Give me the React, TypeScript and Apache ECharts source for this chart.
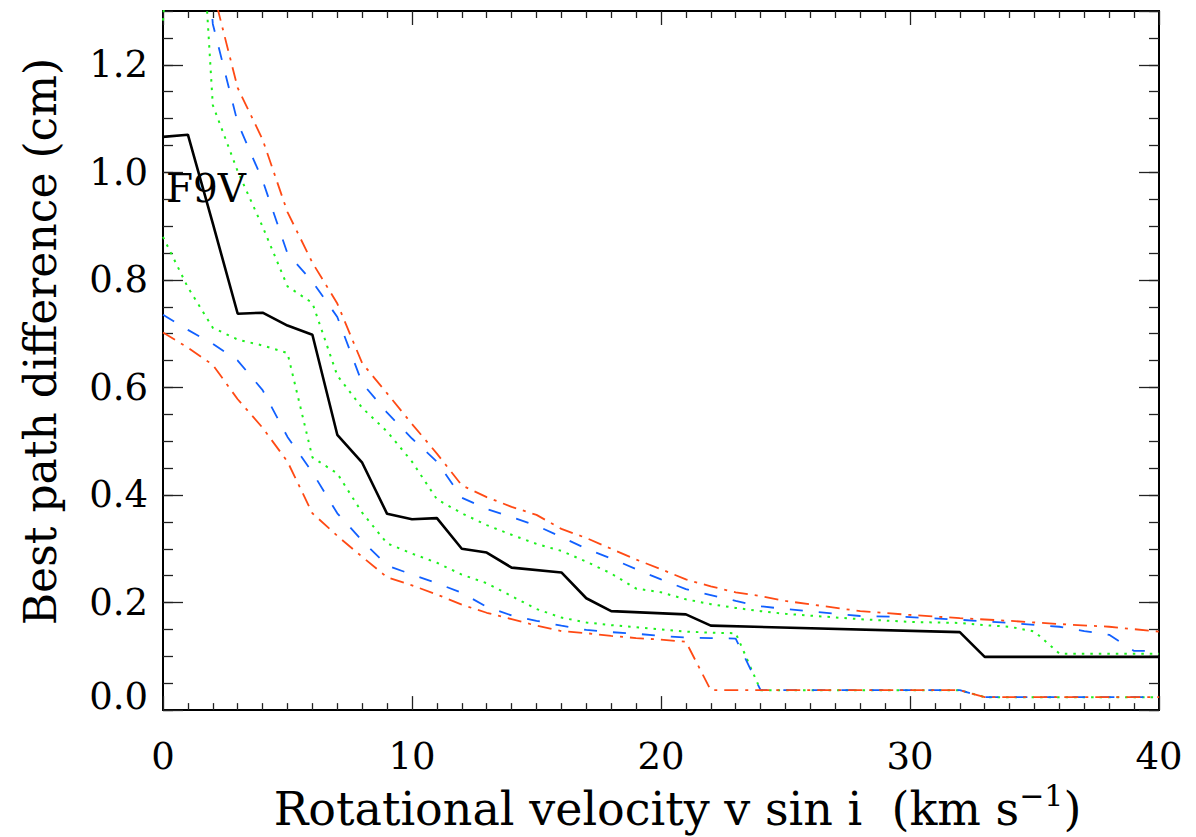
import React, { useEffect, useRef } from 'react';
import * as echarts from 'echarts';

// x axis: rotational velocity v sin i (km/s); y axis: best path difference (cm)
const X_TICK_LABELS = ['0', '10', '20', '30', '40'];
const Y_TICK_LABELS = ['0.0', '0.2', '0.4', '0.6', '0.8', '1.0', '1.2'];
const STAR_LABEL = 'F9V';

// black solid: best value
const bestPath: number[][] = [
  [0, 1.066], [1, 1.07], [2, 0.905], [3, 0.737], [4, 0.739], [5, 0.715], [6, 0.698],
  [7, 0.512], [8, 0.46], [9, 0.365], [10, 0.355], [11, 0.357], [12, 0.3], [13, 0.293],
  [14, 0.265], [16, 0.256], [17, 0.208], [18, 0.184], [21, 0.178], [22, 0.157],
  [32, 0.145], [33, 0.099], [40, 0.099],
];

// green dotted: upper / lower
const greenUpper: number[][] = [
  [0, 1.282], [1, 1.89], [2, 1.125], [3, 1.002], [4, 0.899], [5, 0.788], [6, 0.757],
  [7, 0.622], [8, 0.562], [9, 0.518], [10, 0.462], [11, 0.392], [12, 0.366], [13, 0.344],
  [14, 0.326], [15, 0.309], [16, 0.296], [17, 0.276], [18, 0.254], [19, 0.226], [20, 0.219],
  [21, 0.206], [22, 0.197], [23, 0.19], [24, 0.184], [25, 0.179], [28, 0.169], [30, 0.164],
  [32, 0.162], [33, 0.158], [34, 0.155], [35, 0.146], [36, 0.105], [40, 0.105],
];
const greenLower: number[][] = [
  [0, 0.88], [1, 0.786], [2, 0.711], [3, 0.689], [4, 0.678], [5, 0.664], [6, 0.47],
  [7, 0.44], [8, 0.367], [9, 0.31], [10, 0.291], [11, 0.274], [12, 0.252], [13, 0.236],
  [14, 0.212], [15, 0.188], [16, 0.172], [17, 0.163], [18, 0.158], [19, 0.154], [20, 0.15],
  [21, 0.146], [22, 0.144], [23, 0.143], [24, 0.037], [32, 0.037], [33, 0.024], [40, 0.024],
];

// blue dashed: upper / lower
const blueUpper: number[][] = [
  [0, 1.9], [1, 1.88], [2, 1.276], [3, 1.092], [4, 0.985], [5, 0.849], [6, 0.797],
  [7, 0.731], [8, 0.608], [9, 0.553], [10, 0.505], [11, 0.462], [12, 0.395], [13, 0.374],
  [14, 0.359], [15, 0.343], [16, 0.322], [17, 0.3], [18, 0.282], [19, 0.262], [20, 0.243],
  [21, 0.225], [22, 0.214], [23, 0.203], [24, 0.193], [25, 0.188], [28, 0.175], [30, 0.173],
  [32, 0.168], [34, 0.162], [36, 0.155], [37, 0.147], [38, 0.14], [39, 0.11], [40, 0.11],
];
const blueLower: number[][] = [
  [0, 0.735], [1, 0.707], [2, 0.681], [3, 0.65], [4, 0.595], [5, 0.508], [6, 0.442],
  [7, 0.366], [8, 0.315], [9, 0.269], [10, 0.252], [11, 0.236], [12, 0.218], [13, 0.192],
  [14, 0.176], [15, 0.166], [16, 0.157], [17, 0.149], [18, 0.145], [19, 0.142], [20, 0.138],
  [21, 0.135], [22, 0.134], [23, 0.133], [24, 0.037], [32, 0.037], [33, 0.024], [40, 0.024],
];

// red dash-dot: upper / lower
const redUpper: number[][] = [
  [0, 1.95], [1, 1.95], [2, 1.34], [3, 1.157], [4, 1.061], [5, 0.926], [6, 0.832],
  [7, 0.756], [8, 0.645], [9, 0.589], [10, 0.532], [11, 0.477], [12, 0.418], [13, 0.396],
  [14, 0.378], [15, 0.363], [16, 0.337], [17, 0.32], [18, 0.3], [19, 0.28], [20, 0.262],
  [21, 0.243], [22, 0.23], [23, 0.219], [24, 0.212], [25, 0.203], [28, 0.184], [30, 0.177],
  [32, 0.171], [34, 0.166], [36, 0.16], [38, 0.155], [40, 0.146],
];
const redLower: number[][] = [
  [0, 0.702], [1, 0.674], [2, 0.642], [3, 0.578], [4, 0.525], [5, 0.462], [6, 0.366],
  [7, 0.324], [8, 0.285], [9, 0.247], [10, 0.232], [11, 0.215], [12, 0.196], [13, 0.181],
  [14, 0.169], [15, 0.157], [16, 0.147], [17, 0.143], [18, 0.138], [19, 0.134], [20, 0.131],
  [21, 0.127], [22, 0.037], [32, 0.037], [33, 0.024], [40, 0.024],
];

const FONT = 'DejaVu Serif';
const FS = 37;
const X_TITLE_FS = 46;
const Y_TITLE_FS = 44;
const GREEN = '#1ef01e';
const BLUE = '#1160ff';
const RED = '#ff4a14';

export default function App() {
  const ref = useRef<HTMLDivElement>(null);

  useEffect(() => {
    if (!ref.current) return;
    const chart = echarts.init(ref.current, undefined, { renderer: 'svg' });

    const axisLine = { show: true, onZero: false, lineStyle: { color: '#000', width: 2 } };
    const tickStyle = { color: '#222', width: 1.3 };

    const xCommon = {
      type: 'value' as const,
      min: 0,
      max: 40,
      interval: 10,
      axisLine,
      axisTick: { show: true, inside: true, length: 14, lineStyle: tickStyle },
      minorTick: { show: true, splitNumber: 10, length: 7, lineStyle: tickStyle },
      splitLine: { show: false },
      minorSplitLine: { show: false },
    };

    const yMajor = {
      type: 'value' as const,
      min: 0,
      max: 1.3,
      interval: 0.2,
      axisLine,
      axisTick: { show: true, inside: true, length: 20, lineStyle: tickStyle },
      splitLine: { show: false },
    };
    const yMinor = {
      type: 'value' as const,
      min: 0,
      max: 1.3,
      interval: 0.05,
      axisLine,
      axisTick: { show: true, inside: true, length: 10, lineStyle: tickStyle },
      axisLabel: { show: false },
      splitLine: { show: false },
    };

    const lineSeries = (data: number[][], color: string, type: any, width: number, z: number) => ({
      type: 'line' as const,
      data,
      symbol: 'none',
      showSymbol: false,
      clip: true,
      z,
      lineStyle: { color, width, type },
      emphasis: { disabled: true },
    });

    chart.setOption({
      animation: false,
      backgroundColor: '#fff',
      grid: { left: 163, right: 37, top: 11, bottom: 121, containLabel: false },
      xAxis: [
        {
          ...xCommon,
          position: 'bottom',
          axisLabel: {
            show: true,
            color: '#000',
            fontFamily: FONT,
            fontSize: FS,
            margin: 28,
            formatter: (v: number) => X_TICK_LABELS[Math.round(v / 10)] ?? '',
          },
          name: '{a|Rotational velocity v sin i  (km s}{s|−1}{a|)}',
          nameLocation: 'middle',
          nameGap: 60,
          nameTextStyle: {
            padding: [0, 0, 0, 33],
            rich: {
              a: { fontFamily: FONT, fontSize: X_TITLE_FS, color: '#000', verticalAlign: 'middle' },
              s: { fontFamily: FONT, fontSize: 30, color: '#000', verticalAlign: 'middle', padding: [0, 0, 28, 0] },
            },
          },
        },
        { ...xCommon, position: 'top', axisLabel: { show: false } },
      ],
      yAxis: [
        {
          ...yMajor,
          position: 'left',
          axisLabel: {
            show: true,
            showMaxLabel: false,
            color: '#000',
            fontFamily: FONT,
            fontSize: FS,
            margin: 15,
            formatter: (v: number) => {
              const i = Math.round(v / 0.2);
              if (v > 1.25) return '';
              const s = Y_TICK_LABELS[i] ?? '';
              return i === 0 ? '{z|' + s + '}' : s;
            },
            rich: {
              z: { fontFamily: FONT, fontSize: FS, color: '#000', padding: [0, 0, 28, 0] },
            },
          },
          name: 'Best path difference (cm)',
          nameLocation: 'middle',
          nameGap: 101,
          nameTextStyle: { fontFamily: FONT, fontSize: Y_TITLE_FS, color: '#000', padding: [0, 0, 0, 38] },
        },
        { ...yMinor, position: 'left' },
        { ...yMajor, position: 'right', axisLabel: { show: false } },
        { ...yMinor, position: 'right' },
      ],
      graphic: [
        {
          type: 'text',
          x: 166,
          y: 188,
          style: {
            text: STAR_LABEL,
            fontFamily: FONT,
            fontSize: 39,
            fill: '#000',
            align: 'left',
            verticalAlign: 'middle',
          },
          z: 10,
        },
      ],
      series: [
        lineSeries(greenUpper, GREEN, [2.5, 6], 2, 2),
        lineSeries(greenLower, GREEN, [2.5, 6], 2, 2),
        lineSeries(blueUpper, BLUE, [13, 16], 1.8, 3),
        lineSeries(blueLower, BLUE, [13, 16], 1.8, 3),
        lineSeries(redUpper, RED, [14, 7, 3, 7], 1.8, 4),
        lineSeries(redLower, RED, [14, 7, 3, 7], 1.8, 4),
        lineSeries(bestPath, '#000', 'solid', 2.6, 5),
      ],
    });

    return () => {
      chart.dispose();
    };
  }, []);

  return (
    <div
      ref={ref}
      style={{ position: 'fixed', left: 0, top: 0, width: 1196, height: 837, background: '#fff' }}
    />
  );
}
